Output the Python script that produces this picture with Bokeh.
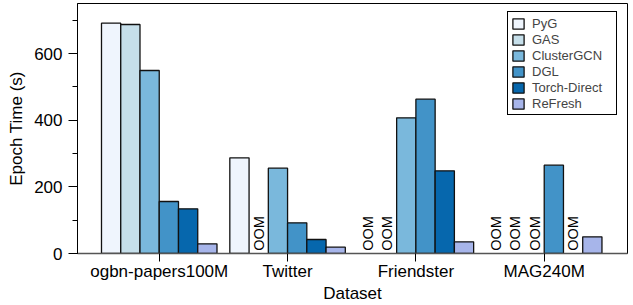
import math
from bokeh.plotting import figure
from bokeh.models import (Range1d, FixedTicker, SingleIntervalTicker, Legend, LegendItem,
                          ColumnDataSource)
from bokeh.core.properties import value
from bokeh.embed import file_html
from bokeh.resources import INLINE

datasets = ["ogbn-papers100M", "Twitter", "Friendster", "MAG240M"]
systems = ["PyG", "GAS", "ClusterGCN", "DGL", "Torch-Direct", "ReFresh"]
colors = ["#eff5fd", "#c6dfea", "#7ab8dc", "#4293c8", "#0667ad", "#a7b5ea"]

# Epoch time (s); None = OOM
pyg = [691, 287, None, None]
gas = [687, None, None, None]
clustergcn = [549, 256, 407, None]
dgl = [156, 92, 463, 265]
torch_direct = [134, 42, 248, None]
refresh = [29, 19, 35, 50]

series = [pyg, gas, clustergcn, dgl, torch_direct, refresh]

FONT = "Liberation Sans"
bar_w = 0.15

p = figure(width=633, height=305, output_backend="svg", toolbar_location=None,
           x_range=Range1d(-0.637, 3.649), y_range=Range1d(0, 750),
           min_border_left=77, min_border_right=6, min_border_top=3, min_border_bottom=52)
p.xgrid.visible = False
p.ygrid.visible = False
p.outline_line_color = "black"
p.outline_line_width = 1
p.outline_line_alpha = 1

items = []
oom_x, oom_y = [], []
for i, (name, vals, col) in enumerate(zip(systems, series, colors)):
    off = (i - 2.5) * bar_w
    xs, tops = [], []
    for j, v in enumerate(vals):
        if v is None:
            oom_x.append(j + off)
            oom_y.append(8)
        else:
            xs.append(j + off)
            tops.append(v)
    src = ColumnDataSource(dict(x=xs, top=tops))
    r = p.vbar(x="x", top="top", width=bar_w, bottom=0, source=src,
               fill_color=col, line_color="#111111", line_width=1.3)
    items.append(LegendItem(label=name, renderers=[r]))

p.text(x=oom_x, y=oom_y, text=["OOM"] * len(oom_x), angle=math.pi / 2,
       text_align="left", text_baseline="middle", text_font_size="14.5px",
       text_font=value(FONT), text_color="black")

# x axis
p.xaxis.ticker = FixedTicker(ticks=[0, 1, 2, 3])
p.xaxis.major_label_overrides = {k: d for k, d in enumerate(datasets)}
p.xaxis.minor_tick_line_color = None
p.xaxis.major_tick_out = 8
p.xaxis.major_tick_in = 0
p.xaxis.major_label_standoff = 0
p.xaxis.axis_line_color = "#555555"
p.xaxis.axis_line_width = 1.5
p.xaxis.major_label_text_font = FONT
p.xaxis.major_label_text_font_size = "17px"
p.xaxis.major_label_text_color = "black"
p.xaxis.axis_label = "Dataset"
p.xaxis.axis_label_standoff = 0
p.xaxis.axis_label_text_font = FONT
p.xaxis.axis_label_text_font_size = "17px"
p.xaxis.axis_label_text_font_style = "normal"
p.xaxis.axis_label_text_color = "black"

# y axis
p.yaxis.ticker = SingleIntervalTicker(interval=200, num_minor_ticks=2)
p.yaxis.major_tick_out = 9
p.yaxis.major_tick_in = 0
p.yaxis.minor_tick_out = 5
p.yaxis.minor_tick_in = 0
p.yaxis.major_label_standoff = 6
p.yaxis.axis_label = "Epoch Time (s)"
p.yaxis.axis_label_standoff = 5
p.yaxis.axis_label_text_font = FONT
p.yaxis.axis_label_text_font_size = "17px"
p.yaxis.axis_label_text_font_style = "normal"
p.yaxis.axis_label_text_color = "black"
p.yaxis.major_label_text_font = FONT
p.yaxis.major_label_text_font_size = "17px"
p.yaxis.major_label_text_color = "black"
p.yaxis.axis_line_color = "black"

legend = Legend(items=items, location=(430, 138))
legend.border_line_color = "black"
legend.border_line_width = 1
legend.border_line_alpha = 1
legend.background_fill_alpha = 1
legend.label_text_font = FONT
legend.label_text_font_size = "13px"
legend.glyph_width = 14
legend.glyph_height = 13
legend.label_height = 16
legend.label_width = 81
legend.spacing = 0
legend.padding = 3
legend.margin = 0
legend.label_standoff = 7
p.add_layout(legend, "center")

open("out.html", "w").write(file_html(p, INLINE))
